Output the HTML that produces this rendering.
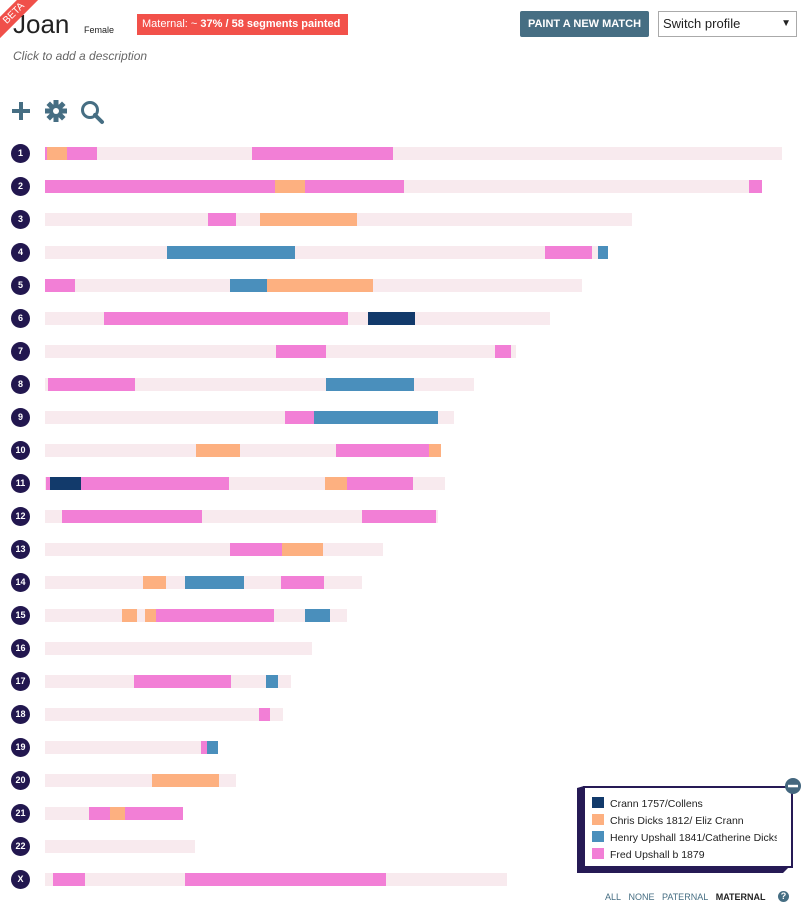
<!DOCTYPE html>
<html><head><meta charset="utf-8"><style>
body{margin:0;width:801px;height:904px;position:relative;background:#fff;font-family:"Liberation Sans",sans-serif;overflow:hidden}
.a{position:absolute}
.r{position:absolute;left:0;width:801px;height:13px}
.r b{position:absolute;top:0;height:13px;display:block}
.n{position:absolute;left:11px;top:-3px;width:19px;height:19px;border-radius:50%;background:#22174f;color:#fff;font-size:9px;font-weight:bold;text-align:center;line-height:19px}
.g{background:#f8eaee}.p{background:#f27fd6}.o{background:#fdb080}.u{background:#4a8fbc}.v{background:#123a6b}
</style></head><body>
<div class="a" style="left:13px;top:9px;font-size:26px;color:#222">Joan</div>
<div class="a" style="left:-22px;top:6px;width:72px;height:15px;background:#f0504a;color:#fff;font-size:10px;text-align:center;line-height:15px;transform:rotate(-45deg)">BETA</div>
<div class="a" style="left:84px;top:25px;font-size:9px;color:#222">Female</div>
<div class="a" style="left:137px;top:14px;width:211px;height:21px;background:#f2514a;color:#fff;font-size:11px;line-height:21px;padding-left:5px;box-sizing:border-box">Maternal: ~ <b>37% / 58 segments painted</b> &#x21bb;</div>
<div class="a" style="left:13px;top:49px;font-size:12px;font-style:italic;color:#666">Click to add a description</div>
<div class="a" style="left:520px;top:11px;width:129px;height:26px;background:#466e83;border-radius:2px;color:#fff;font-size:11px;font-weight:bold;text-align:center;line-height:26px">PAINT A NEW MATCH</div>
<div class="a" style="left:658px;top:11px;width:139px;height:26px;border:1px solid #aaa;box-sizing:border-box;font-size:13px;line-height:24px;padding-left:4px;color:#222">Switch profile<span style="position:absolute;right:5px;font-size:10px">▼</span></div>
<svg class="a" style="left:10px;top:100px" width="100" height="26">
<path d="M9 2h4v7h7v4h-7v7h-4v-7h-7v-4h7z" fill="#466e83"/>
<g transform="translate(46,11)" fill="#466e83"><circle r="7"/><g><rect x="-2.5" y="-11" width="5" height="22"/><rect x="-2.5" y="-11" width="5" height="22" transform="rotate(45)"/><rect x="-2.5" y="-11" width="5" height="22" transform="rotate(90)"/><rect x="-2.5" y="-11" width="5" height="22" transform="rotate(135)"/></g><circle r="3" fill="#fff"/></g>
<circle cx="80" cy="10" r="7.5" fill="none" stroke="#466e83" stroke-width="3"/><path d="M85 15l7 7" stroke="#466e83" stroke-width="4" stroke-linecap="round"/>
</svg>
<div class="r" style="top:147px"><span class="n">1</span><b class="g" style="left:45px;width:737px"></b><b class="p" style="left:45px;width:2px"></b><b class="o" style="left:47px;width:20px"></b><b class="p" style="left:67px;width:30px"></b><b class="p" style="left:252px;width:141px"></b></div>
<div class="r" style="top:180px"><span class="n">2</span><b class="g" style="left:45px;width:717px"></b><b class="p" style="left:45px;width:230px"></b><b class="o" style="left:275px;width:30px"></b><b class="p" style="left:305px;width:99px"></b><b class="p" style="left:749px;width:13px"></b></div>
<div class="r" style="top:213px"><span class="n">3</span><b class="g" style="left:45px;width:587px"></b><b class="p" style="left:208px;width:28px"></b><b class="o" style="left:260px;width:97px"></b></div>
<div class="r" style="top:246px"><span class="n">4</span><b class="g" style="left:45px;width:563px"></b><b class="u" style="left:167px;width:128px"></b><b class="p" style="left:545px;width:47px"></b><b class="u" style="left:598px;width:10px"></b></div>
<div class="r" style="top:279px"><span class="n">5</span><b class="g" style="left:45px;width:537px"></b><b class="p" style="left:45px;width:30px"></b><b class="u" style="left:230px;width:37px"></b><b class="o" style="left:267px;width:106px"></b></div>
<div class="r" style="top:312px"><span class="n">6</span><b class="g" style="left:45px;width:505px"></b><b class="p" style="left:104px;width:244px"></b><b class="v" style="left:368px;width:47px"></b></div>
<div class="r" style="top:345px"><span class="n">7</span><b class="g" style="left:45px;width:471px"></b><b class="p" style="left:276px;width:50px"></b><b class="p" style="left:495px;width:16px"></b></div>
<div class="r" style="top:378px"><span class="n">8</span><b class="g" style="left:45px;width:429px"></b><b class="p" style="left:48px;width:87px"></b><b class="u" style="left:326px;width:88px"></b></div>
<div class="r" style="top:411px"><span class="n">9</span><b class="g" style="left:45px;width:409px"></b><b class="p" style="left:285px;width:29px"></b><b class="u" style="left:314px;width:124px"></b></div>
<div class="r" style="top:444px"><span class="n">10</span><b class="g" style="left:45px;width:396px"></b><b class="o" style="left:196px;width:44px"></b><b class="p" style="left:336px;width:93px"></b><b class="o" style="left:429px;width:12px"></b></div>
<div class="r" style="top:477px"><span class="n">11</span><b class="g" style="left:45px;width:400px"></b><b class="p" style="left:46px;width:4px"></b><b class="v" style="left:50px;width:31px"></b><b class="p" style="left:81px;width:148px"></b><b class="o" style="left:325px;width:22px"></b><b class="p" style="left:347px;width:66px"></b></div>
<div class="r" style="top:510px"><span class="n">12</span><b class="g" style="left:45px;width:393px"></b><b class="p" style="left:62px;width:140px"></b><b class="p" style="left:362px;width:74px"></b></div>
<div class="r" style="top:543px"><span class="n">13</span><b class="g" style="left:45px;width:338px"></b><b class="p" style="left:230px;width:52px"></b><b class="o" style="left:282px;width:41px"></b></div>
<div class="r" style="top:576px"><span class="n">14</span><b class="g" style="left:45px;width:317px"></b><b class="o" style="left:143px;width:23px"></b><b class="u" style="left:185px;width:59px"></b><b class="p" style="left:281px;width:43px"></b></div>
<div class="r" style="top:609px"><span class="n">15</span><b class="g" style="left:45px;width:302px"></b><b class="o" style="left:122px;width:15px"></b><b class="o" style="left:145px;width:11px"></b><b class="p" style="left:156px;width:118px"></b><b class="u" style="left:305px;width:25px"></b></div>
<div class="r" style="top:642px"><span class="n">16</span><b class="g" style="left:45px;width:267px"></b></div>
<div class="r" style="top:675px"><span class="n">17</span><b class="g" style="left:45px;width:246px"></b><b class="p" style="left:134px;width:97px"></b><b class="u" style="left:266px;width:12px"></b></div>
<div class="r" style="top:708px"><span class="n">18</span><b class="g" style="left:45px;width:238px"></b><b class="p" style="left:259px;width:11px"></b></div>
<div class="r" style="top:741px"><span class="n">19</span><b class="g" style="left:45px;width:173px"></b><b class="p" style="left:201px;width:6px"></b><b class="u" style="left:207px;width:11px"></b></div>
<div class="r" style="top:774px"><span class="n">20</span><b class="g" style="left:45px;width:191px"></b><b class="o" style="left:152px;width:67px"></b></div>
<div class="r" style="top:807px"><span class="n">21</span><b class="g" style="left:45px;width:138px"></b><b class="p" style="left:89px;width:21px"></b><b class="o" style="left:110px;width:15px"></b><b class="p" style="left:125px;width:58px"></b></div>
<div class="r" style="top:840px"><span class="n">22</span><b class="g" style="left:45px;width:150px"></b></div>
<div class="r" style="top:873px"><span class="n">X</span><b class="g" style="left:45px;width:462px"></b><b class="p" style="left:53px;width:32px"></b><b class="p" style="left:185px;width:201px"></b></div>
<svg class="a" style="left:570px;top:778px" width="231" height="100">
<polygon points="7,10 14,8 14,88 220,88 213,95 7,95" fill="#261a55"/>
<rect x="14" y="9" width="208" height="80" fill="#fff" stroke="#261a55" stroke-width="2"/>
<circle cx="223" cy="8" r="8" fill="#44677f"/><rect x="218" y="6.8" width="10" height="2.5" fill="#fff"/>
</svg>
<div class="a" style="left:592px;top:796px;width:185px;overflow:hidden;white-space:nowrap;font-size:10.5px;color:#222;line-height:17px">
<div><span style="display:inline-block;width:12px;height:11px;background:#123a6b;vertical-align:-1px;margin-right:6px"></span>Crann 1757/Collens</div>
<div><span style="display:inline-block;width:12px;height:11px;background:#fdb080;vertical-align:-1px;margin-right:6px"></span>Chris Dicks 1812/ Eliz Crann</div>
<div><span style="display:inline-block;width:12px;height:11px;background:#4a8fbc;vertical-align:-1px;margin-right:6px"></span>Henry Upshall 1841/Catherine Dicks</div>
<div><span style="display:inline-block;width:12px;height:11px;background:#f27fd6;vertical-align:-1px;margin-right:6px"></span>Fred Upshall b 1879</div>
</div>
<div class="a" style="left:605px;top:892px;font-size:9px;color:#466e83">ALL&nbsp;&nbsp; NONE&nbsp;&nbsp; PATERNAL&nbsp;&nbsp; <b style="color:#222">MATERNAL</b></div>
<div class="a" style="left:778px;top:891px;width:11px;height:11px;border-radius:50%;background:#466e83;color:#fff;font-size:9px;font-weight:bold;text-align:center;line-height:11px">?</div>
</body></html>
